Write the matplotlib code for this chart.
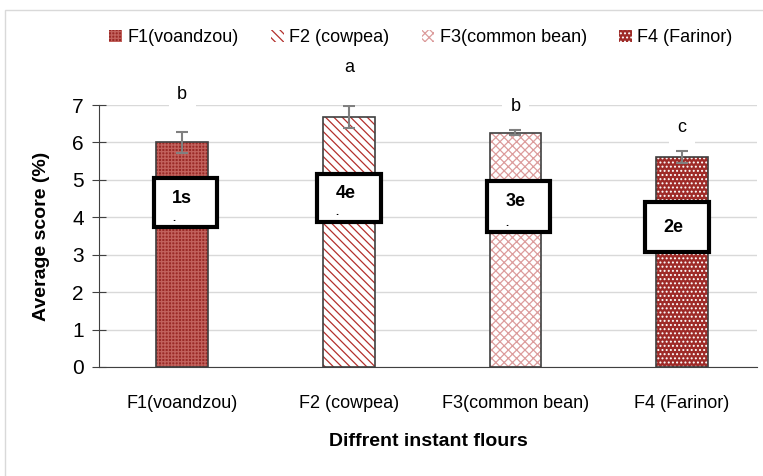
import matplotlib.pyplot as plt
from matplotlib.patches import Rectangle

flours = ["F1(voandzou)", "F2 (cowpea)", "F3(common bean)", "F4 (Farinor)"]
scores = [6.0, 6.68, 6.26, 5.61]
errors = [0.27, 0.30, 0.06, 0.15]
letters = ["b", "a", "b", "c"]
codes = ["1s", "4e", "3e", "2e"]

# styling / layout, one entry per bar
face = ["#9a2a27", "white", "white", "#9e2b28"]
hcol = ["#c2625d", "#b3302c", "#dc9c9c", "white"]
hatches = ["+++++", "\\\\\\\\", "xxxx", "...."]
letter_y = [7.27, 8.0, 6.95, 6.39]
box_x = [0.02, 1.0, 2.02, 2.97]
box_top = [5.05, 5.16, 4.97, 4.41]
box_bot = [3.74, 3.88, 3.61, 3.07]
dots = [True, True, True, False]

plt.rcParams['font.family'] = ['Liberation Sans', 'DejaVu Sans']
plt.rcParams['hatch.linewidth'] = 0.9

fig = plt.figure(figsize=(7.63, 4.76), dpi=100)
fig.patches.append(Rectangle((5 / 763, -0.1), 1.0, 0.1 + 1 - 10 / 476,
                             transform=fig.transFigure, fill=False,
                             edgecolor="#d9d9d9", lw=1))
ax = fig.add_axes([99 / 763, 1 - 367 / 476, (757 - 99) / 763, (367 - 105) / 476])

x = list(range(len(flours)))
bars = []
for i in x:
    b = ax.bar(i, scores[i], width=0.31, color=face[i], hatch=hatches[i],
               edgecolor=hcol[i], linewidth=0, zorder=2, label=flours[i])
    bars.append(b)
    ax.bar(i, scores[i], width=0.31, fill=False, edgecolor="#404040",
           linewidth=1.2, zorder=3)

ax.errorbar(x, scores, yerr=errors, fmt="none", ecolor="#808080",
            capsize=4, elinewidth=1.5, capthick=1.5, zorder=4)

for i in x:
    ax.text(i, letter_y[i], letters[i], ha="center", va="center", fontsize=13,
            zorder=5, clip_on=False,
            bbox=dict(facecolor="white", edgecolor="none", pad=6))
    w = 0.38
    ax.add_patch(Rectangle((box_x[i] - w / 2, box_bot[i]), w, box_top[i] - box_bot[i],
                           facecolor="white", edgecolor="black", lw=3, zorder=6))
    mid = (box_top[i] + box_bot[i]) / 2
    ty = mid + 0.12 if dots[i] else mid
    ax.text(box_x[i] - 0.02, ty, codes[i], ha="center", va="center",
            fontsize=13, fontweight="bold", zorder=7)
    if dots[i]:
        ax.text(box_x[i] - 0.07, box_bot[i] + 0.25, ".", ha="center",
                va="center", fontsize=8, fontweight="bold", zorder=7)

ax.set_ylim(0, 7)
ax.set_xlim(-0.5, 3.45)
ax.set_yticks(range(8))
ax.set_xticks(x)
ax.set_xticklabels(flours, fontsize=13)
ax.tick_params(axis="y", labelsize=15, direction="inout", length=10, color="#404040", pad=6)
ax.tick_params(axis="x", length=0, pad=20)
ax.grid(axis="y", color="#d9d9d9", lw=1, zorder=0)
ax.set_axisbelow(True)
for s in ["top", "right"]:
    ax.spines[s].set_visible(False)
ax.spines["left"].set_color("#404040")
ax.spines["bottom"].set_color("#404040")

ax.set_ylabel("Average score (%)", fontsize=14, fontweight="bold", labelpad=16)
ax.set_xlabel("Diffrent instant flours", fontsize=14, fontweight="bold", labelpad=15)

fig.legend(handles=[b[0] for b in bars], labels=flours, loc="center",
           bbox_to_anchor=(421 / 763, 1 - 38 / 476), ncol=4, frameon=False,
           fontsize=13, handlelength=0.7, handleheight=0.7, handletextpad=0.3,
           columnspacing=1.8)

fig.savefig("out.png", dpi=100)
